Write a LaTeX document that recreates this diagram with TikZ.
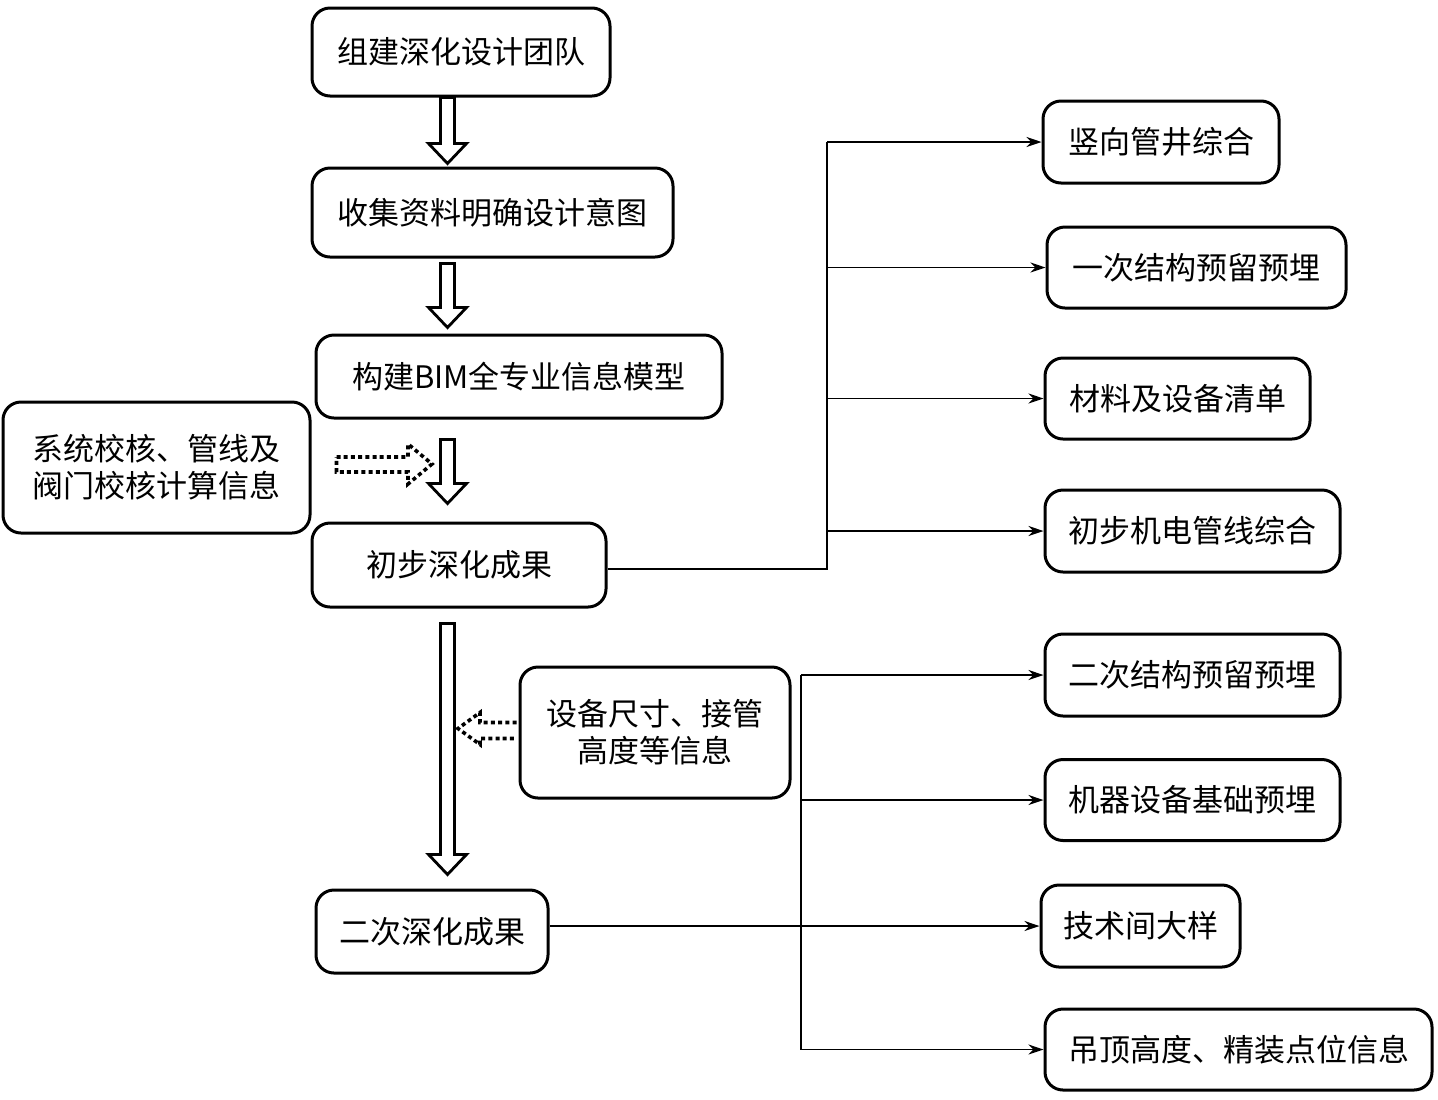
\documentclass[tikz,border=0pt]{standalone}
\usepackage{fontspec}
\setmainfont{Noto Sans CJK SC}
\usetikzlibrary{arrows.meta,calc}
\newcommand\hollowdown[2]{\draw[hollow] let \p1=(#1),\p2=(#2) in
  (\x1-3.5pt,\y1) -- (\x1-3.5pt,\y2+10pt) -- (\x1-9.5pt,\y2+10pt) -- (\x1,\y2)
  -- (\x1+9.5pt,\y2+10pt) -- (\x1+3.5pt,\y2+10pt) -- (\x1+3.5pt,\y1) -- cycle;}
\begin{document}
\begin{tikzpicture}[x=0.5pt,y=-0.5pt,
  box/.style={draw,line width=1.5pt,rounded corners=9pt,inner sep=0pt,align=center,
    font=\fontsize{15.5pt}{18.5pt}\selectfont},
  conn/.style={line width=0.7pt},
  arr/.style={conn,-{Stealth[length=7.5pt,width=5pt]}},
  hollow/.style={line width=1.4pt,line join=miter},
  dots/.style={line width=1.8pt,dash pattern=on 2pt off 1.6pt}]
\useasboundingbox (0,0) rectangle (1438,1099);
% left column
\node[box,minimum width=149pt,minimum height=44pt] (b1) at (461,52) {组建深化设计团队};
\node[box,minimum width=180.5pt,minimum height=44.5pt] (b2) at (492.5,212.5) {收集资料明确设计意图};
\node[box,minimum width=203pt,minimum height=41.5pt] (b3) at (519,376.5) {构建BIM全专业信息模型};
\node[box,minimum width=153.5pt,minimum height=65.5pt] (b4) at (156.5,467.5) {系统校核、管线及\\阀门校核计算信息};
\node[box,minimum width=147pt,minimum height=42pt] (b5) at (459,565) {初步深化成果};
\node[box,minimum width=135pt,minimum height=65.5pt] (b6) at (655,732.5) {设备尺寸、接管\\高度等信息};
\node[box,minimum width=116pt,minimum height=41.5pt] (b7) at (432,931.5) {二次深化成果};
% right column
\node[box,minimum width=118pt,minimum height=41pt] (r1) at (1161,142) {竖向管井综合};
\node[box,minimum width=149.5pt,minimum height=40.5pt] (r2) at (1196.5,267.5) {一次结构预留预埋};
\node[box,minimum width=132.5pt,minimum height=40.5pt] (r3) at (1177.5,398.5) {材料及设备清单};
\node[box,minimum width=147.5pt,minimum height=41pt] (r4) at (1192.5,531) {初步机电管线综合};
\node[box,minimum width=147.5pt,minimum height=41pt] (r5) at (1192.5,675) {二次结构预留预埋};
\node[box,minimum width=147.5pt,minimum height=40.5pt] (r6) at (1192.5,800) {机器设备基础预埋};
\node[box,minimum width=99.5pt,minimum height=41pt] (r7) at (1140.5,926) {技术间大样};
\node[box,minimum width=193.5pt,minimum height=40.5pt] (r8) at (1238.5,1049.5) {吊顶高度、精装点位信息};
% hollow arrows
\coordinate (ax) at (447.5,0);
\hollowdown{ax |- b1.south}{$(ax |- b2.north)+(0,-3)$}
\hollowdown{$(ax |- b2.south)+(0,5)$}{$(ax |- b3.north)+(0,-6)$}
\hollowdown{$(ax |- b3.south)+(0,20)$}{$(ax |- b5.north)+(0,-18)$}
\hollowdown{$(ax |- b5.south)+(0,15)$}{$(ax |- b7.north)+(0,-14)$}
% dotted hollow arrows
\coordinate (d1s) at ($(b4.east)+(25,-3)$);
\coordinate (d1t) at (432,464);
\draw[dots] let \p1=(d1s),\p2=(d1t) in
  (\x1,\y1+3.75pt) -- (\x2-12pt,\y1+3.75pt) -- (\x2-12pt,\y2+10pt) -- (\x2,\y2)
  -- (\x2-12pt,\y2-10pt) -- (\x2-12pt,\y1-3.75pt) -- (\x1,\y1-3.75pt) -- cycle;
\coordinate (d2s) at ($(b6.west)+(-2,-2)$);
\coordinate (d2t) at ($(ax |- b6.west)+(10.5,-4)$);
\draw[dots] let \p1=(d2s),\p2=(d2t) in
  (\x1,\y1+4pt) -- (\x2+11pt,\y1+4pt) -- (\x2+11pt,\y2+8pt) -- (\x2,\y2)
  -- (\x2+11pt,\y2-8pt) -- (\x2+11pt,\y1-4pt) -- (\x1,\y1-4pt);
% upper branch connectors
\coordinate (t0) at (827,569);
\draw[conn] (b5.east |- t0) -- (t0) -- (t0 |- r1.west);
\draw[arr] (t0 |- r1.west) -- (r1.west);
\draw[arr] (t0 |- r2.west) -- (r2.west);
\draw[arr] (t0 |- r3.west) -- (r3.west);
\draw[arr] (t0 |- r4.west) -- (r4.west);
% lower branch connectors
\coordinate (t1) at (801,0);
\draw[conn] (t1 |- r5.west) -- (t1 |- r8.west);
\draw[arr] (t1 |- r5.west) -- (r5.west);
\draw[arr] (t1 |- r6.west) -- (r6.west);
\draw[arr] (b7.east |- r7.west) -- (r7.west);
\draw[arr] (t1 |- r8.west) -- (r8.west);
\end{tikzpicture}
\end{document}
